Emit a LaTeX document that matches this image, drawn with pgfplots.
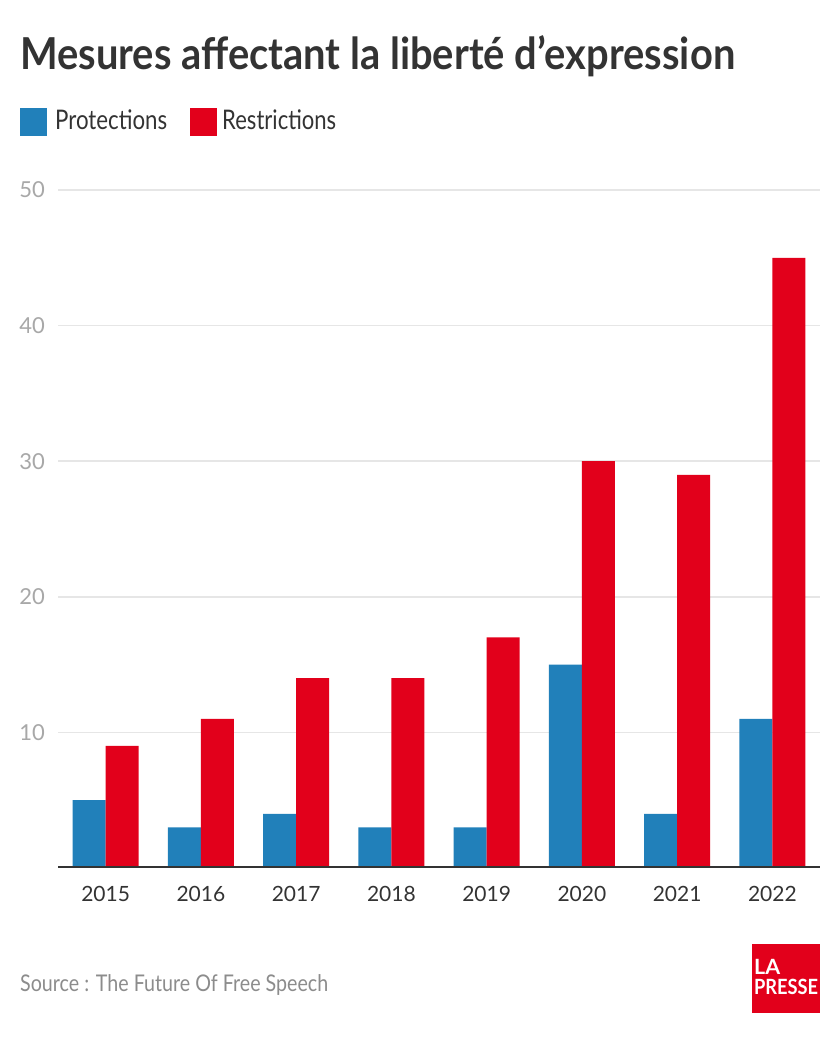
\documentclass[border=0pt]{standalone}
\usepackage{pgfplots}
\pgfplotsset{compat=1.18}
\usepackage{graphicx}
\usepackage{fontspec}
\setmainfont{Lato}

\definecolor{protblue}{HTML}{2180BA}
\definecolor{restred}{HTML}{E2001B}
\definecolor{darktext}{HTML}{333333}
\definecolor{ticktext}{HTML}{A8A8A8}
\definecolor{srctext}{HTML}{8C8C8C}
\definecolor{gridgray}{HTML}{E6E6E6}

% stretch or squeeze text horizontally to a given width
\newcommand{\fitx}[2]{\resizebox{#1}{\height}{#2}}

\begin{document}
\begin{tikzpicture}
\path[fill=white] (0,0) rectangle (840bp,1040bp);
\useasboundingbox (0,0) rectangle (840bp,1040bp);

% title
\node[anchor=base west, inner sep=0, text=darktext] at (20bp,970bp)
  {\fitx{715bp}{\fontsize{44bp}{50bp}\selectfont\bfseries Mesures affectant la liberté d’expression}};

% legend
\fill[protblue] (20bp,904bp) rectangle (47bp,932bp);
\node[anchor=base west, inner sep=0, text=darktext] at (55bp,910bp)
  {\fitx{112bp}{\fontsize{27bp}{30bp}\selectfont Protections}};
\fill[restred] (190bp,904bp) rectangle (217bp,932bp);
\node[anchor=base west, inner sep=0, text=darktext] at (222bp,910bp)
  {\fitx{114bp}{\fontsize{27bp}{30bp}\selectfont Restrictions}};

\begin{axis}[
    at={(58bp,172bp)}, anchor=south west,
    scale only axis,
    width=762bp, height=678bp,
    xmin=-0.5, xmax=7.5,
    ymin=0, ymax=50,
    ybar=0pt, bar width=33bp,
    xtick={0,...,7},
    xticklabels={2015,2016,2017,2018,2019,2020,2021,2022},
    ytick={10,20,30,40,50},
    ymajorgrids=true,
    grid style={color=gridgray, line width=1.6bp},
    axis line style={draw=none},
    tick style={draw=none},
    /pgf/number format/assume math mode=true,
    xticklabel style={anchor=north, inner sep=0pt, yshift=-14bp,
        text=darktext, font=\fontsize{21bp}{24bp}\selectfont},
    yticklabel style={anchor=east, inner sep=0pt, xshift=-13bp,
        text=ticktext, font=\fontsize{22bp}{24bp}\selectfont},
]
\addplot[draw=none, fill=protblue] coordinates {
    (0,5) (1,3) (2,4) (3,3) (4,3) (5,15) (6,4) (7,11)
};
\addplot[draw=none, fill=restred] coordinates {
    (0,9) (1,11) (2,14) (3,14) (4,17) (5,30) (6,29) (7,45)
};
\draw[darktext, line width=3bp] (axis cs:-0.5,0) -- (axis cs:7.5,0);
\end{axis}

% source
\node[anchor=base west, inner sep=0, text=srctext] at (20bp,48bp)
  {\fitx{308bp}{\fontsize{23bp}{26bp}\selectfont Source : The Future Of Free Speech}};

% logo
\fill[restred] (752bp,27bp) rectangle (820bp,96bp);
\node[anchor=base west, inner sep=0, text=white] at (754bp,65bp)
  {\fitx{26bp}{\fontsize{21bp}{22bp}\selectfont\bfseries LA}};
\node[anchor=base west, inner sep=0, text=white] at (754bp,45bp)
  {\fitx{64bp}{\fontsize{21bp}{22bp}\selectfont\bfseries PRESSE}};
\end{tikzpicture}
\end{document}
